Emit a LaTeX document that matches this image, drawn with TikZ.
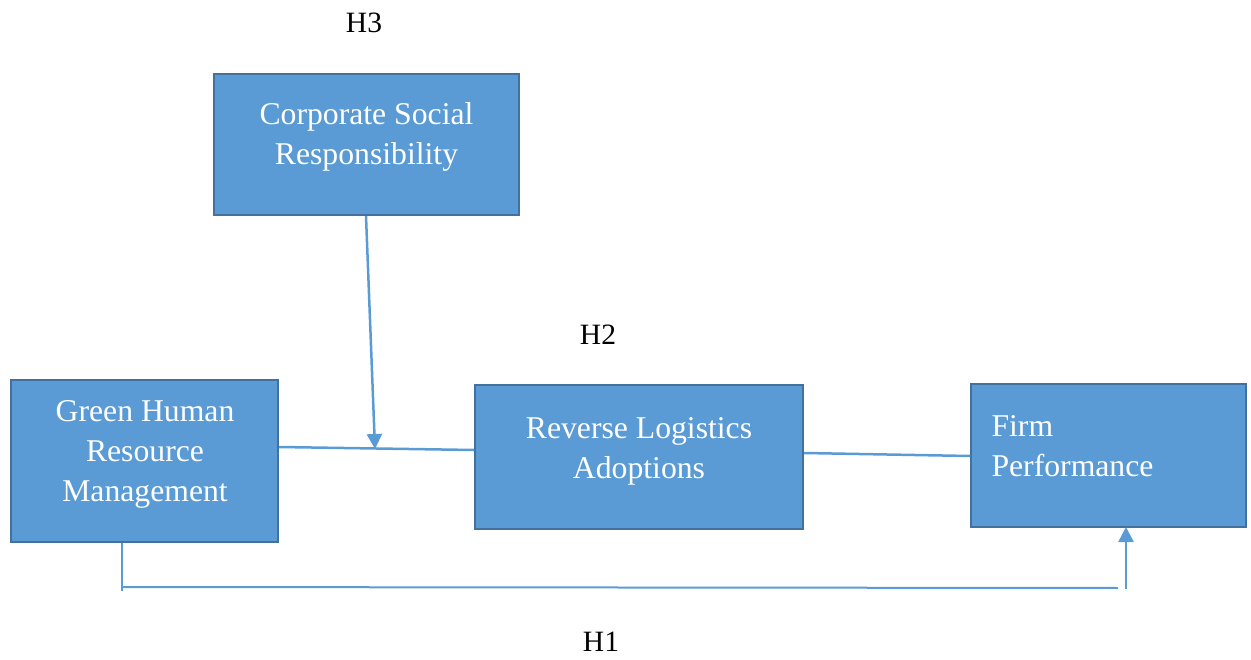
\documentclass[tikz,border=0pt]{standalone}
\usepackage{fontspec}
\setmainfont{Liberation Serif}
\usetikzlibrary{arrows.meta}
\definecolor{boxfill}{HTML}{5B9BD5}
\definecolor{boxdraw}{HTML}{41719C}
\begin{document}
\begin{tikzpicture}[x=1pt,y=-1pt,
  blk/.style={draw=boxdraw,fill=boxfill,line width=2.8pt,inner sep=0pt},
  btext/.style={text=white,font=\fontsize{31.7}{40}\selectfont,align=center},
  hlab/.style={font=\fontsize{29.5}{34}\selectfont,text=black},
  conn/.style={draw=boxfill,line width=2.5pt},
  tip/.style={-{Triangle[width=15pt,length=15pt]}}]
\useasboundingbox (0,0) rectangle (1251,660);
% boxes
\path[blk] (214,74) rectangle (519,215);
\node[btext] (csrT) at (366.5,137) {Corporate Social\\Responsibility};
\path[blk] (11,380) rectangle (278,542);
\node[btext] (ghrmT) at (145,454) {Green Human\\Resource\\Management};
\path[blk] (475,385) rectangle (803,529);
\node[btext] (rlaT) at (639,451) {Reverse Logistics\\Adoptions};
\path[blk] (971,384) rectangle (1246,527);
\node[btext,align=left,anchor=west] (fpT) at (988,446) {Firm\\Performance};
% coordinates
\coordinate (csrB) at (366,216);
\coordinate (ghrmR) at (279,447);
\coordinate (rlaL) at (474,450);
\coordinate (rlaR) at (804,453);
\coordinate (fpL) at (970,456);
\coordinate (mid) at (375,449);
\coordinate (ghrmB) at (122,543);
\coordinate (ghrmD) at (122,591);
\coordinate (h1a) at (122,587);
\coordinate (h1b) at (1118,588);
\coordinate (fpD) at (1126,589);
\coordinate (fpB) at (1126,527);
% connectors
\draw[conn] (ghrmR) -- (rlaL);
\draw[conn] (rlaR) -- (fpL);
\draw[conn,tip] (csrB) -- (mid);
\draw[conn,line width=2pt] (ghrmB) -- (ghrmD);
\draw[conn,line width=2pt] (h1a) -- (h1b);
\draw[conn,tip] (fpD) -- (fpB);
% labels
\node[hlab] (h3) at (364,23) {H3};
\node[hlab] (h2) at (598,335) {H2};
\node[hlab] (h1) at (601,642) {H1};
\end{tikzpicture}
\end{document}
